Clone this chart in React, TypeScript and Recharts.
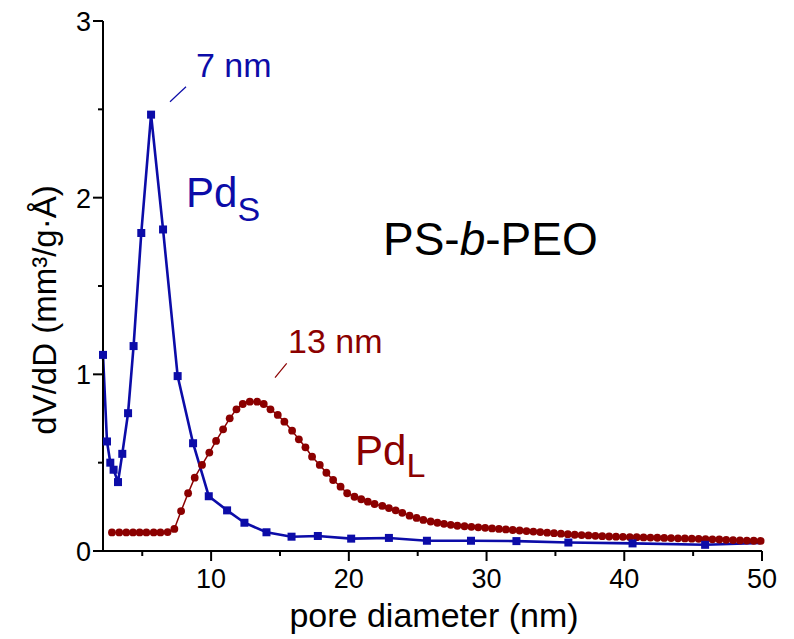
import React from 'react';
import { LineChart, Line, XAxis, YAxis } from 'recharts';

// Pd_S (blue squares)
const smallX = [2.15, 2.44, 2.68, 2.92, 3.24, 3.55, 3.97, 4.37, 4.93, 5.64, 6.51, 7.57, 8.69, 9.83, 11.16, 12.42, 14.02, 15.84, 17.75, 20.17, 22.91, 25.67, 28.87, 32.17, 35.94, 40.6, 45.87, 49.95];
const smallY = [1.11, 0.62, 0.5, 0.46, 0.39, 0.55, 0.78, 1.16, 1.8, 2.47, 1.82, 0.99, 0.61, 0.31, 0.23, 0.16, 0.106, 0.081, 0.085, 0.07, 0.074, 0.058, 0.058, 0.056, 0.048, 0.043, 0.035, 0.045];

// Pd_L (dark red circles)
const largeX = [
  2.8, 3.33, 3.84, 4.33, 4.81, 5.3, 5.83, 6.32, 6.84, 7.33, 7.82, 8.33, 8.81, 9.34, 9.87, 10.36, 10.87, 11.35, 11.84, 12.3,
  12.81, 13.34, 13.82, 14.31, 14.84, 15.32, 15.88, 16.37, 16.85, 17.33, 17.89, 18.37, 18.86, 19.4, 19.88, 20.41, 20.9, 21.38, 21.87, 22.43,
  22.91, 23.4, 23.88, 24.41, 24.92, 25.41, 25.94, 26.43, 26.91, 27.4, 27.88, 28.4, 28.9, 29.4, 29.9, 30.4, 30.9, 31.4, 31.9, 32.4,
  32.9, 33.4, 33.9, 34.4, 34.9, 35.4, 35.9, 36.4, 36.9, 37.4, 37.9, 38.4, 38.9, 39.4, 39.9, 40.4, 40.9, 41.4, 41.9, 42.4,
  42.9, 43.4, 43.9, 44.4, 44.9, 45.4, 45.9, 46.4, 46.9, 47.4, 47.9, 48.4, 48.9, 49.4, 49.9,
];
const largeY = [
  0.105, 0.105, 0.105, 0.105, 0.105, 0.105, 0.105, 0.105, 0.107, 0.125, 0.226, 0.327, 0.415, 0.487, 0.557, 0.623, 0.689, 0.751, 0.802, 0.832,
  0.845, 0.845, 0.832, 0.802, 0.77, 0.732, 0.681, 0.632, 0.587, 0.534, 0.487, 0.443, 0.402, 0.364, 0.327, 0.307, 0.293, 0.279, 0.266, 0.255,
  0.243, 0.23, 0.216, 0.2, 0.187, 0.176, 0.167, 0.16, 0.154, 0.148, 0.143, 0.14, 0.137, 0.134, 0.131, 0.128, 0.125, 0.122, 0.119, 0.116,
  0.113, 0.11, 0.107, 0.104, 0.101, 0.098, 0.095, 0.092, 0.09, 0.088, 0.086, 0.084, 0.082, 0.081, 0.08, 0.079, 0.078, 0.077, 0.076, 0.075,
  0.074, 0.073, 0.072, 0.071, 0.07, 0.069, 0.067, 0.066, 0.065, 0.063, 0.062, 0.06, 0.059, 0.058, 0.057,
];

const xTicks = [5, 10, 15, 20, 25, 30, 35, 40, 45, 50];
const yTicks = [0, 0.5, 1, 1.5, 2, 2.5, 3];

const smallData = smallX.map((x, i) => ({ x, y: smallY[i] }));
const largeData = largeX.map((x, i) => ({ x, y: largeY[i] }));

const BLUE = '#0c0ca8';
const RED = '#8b0000';
const FONT = '"Liberation Sans", Arial, sans-serif';

const XTick = (props: any) => {
  const { x, y, payload } = props;
  const major = payload.value % 10 === 0;
  return (
    <g>
      <line x1={x} y1={y} x2={x} y2={y + (major ? 10 : 5)} stroke="#000" strokeWidth={2} />
      {major && (
        <text x={x} y={y + 37} textAnchor="middle" fontSize={27} fill="#000" fontFamily={FONT}>
          {payload.value}
        </text>
      )}
    </g>
  );
};

const YTick = (props: any) => {
  const { x, y, payload } = props;
  const major = Number.isInteger(payload.value);
  return (
    <g>
      <line x1={x - (major ? 10 : 5)} y1={y} x2={x} y2={y} stroke="#000" strokeWidth={2} />
      {major && (
        <text x={x - 12} y={y + 10} textAnchor="end" fontSize={27} fill="#000" fontFamily={FONT}>
          {payload.value}
        </text>
      )}
    </g>
  );
};

const SquareDot = (props: any) => {
  const { cx, cy, index } = props;
  if (cx == null || cy == null || index === smallX.length - 1) return <g key={`s${index}`} />;
  return <rect key={`s${index}`} x={cx - 4} y={cy - 4} width={8} height={8} fill={BLUE} />;
};

const App: React.FC = () => {
  return (
    <div style={{ position: 'absolute', left: 0, top: 0, width: 794, height: 639, background: '#fff' }}>
      <LineChart width={794} height={639} margin={{ top: 21, right: 32, left: 0, bottom: 0 }}>
        <XAxis
          type="number"
          dataKey="x"
          domain={[2.15, 50]}
          ticks={xTicks}
          tick={<XTick />}
          tickLine={false}
          tickSize={0}
          tickMargin={0}
          height={88}
          stroke="#000"
          strokeWidth={2}
          interval={0}
        />
        <YAxis
          type="number"
          domain={[0, 3]}
          ticks={yTicks}
          tick={<YTick />}
          tickLine={false}
          tickSize={0}
          tickMargin={0}
          width={103}
          stroke="#000"
          strokeWidth={2}
          interval={0}
        />
        <Line
          data={largeData}
          dataKey="y"
          stroke={RED}
          strokeWidth={1.5}
          dot={{ r: 3.9, fill: RED, stroke: RED, strokeWidth: 0 }}
          isAnimationActive={false}
        />
        <Line
          data={smallData}
          dataKey="y"
          stroke={BLUE}
          strokeWidth={2.6}
          dot={<SquareDot />}
          isAnimationActive={false}
        />
        <text x={56} y={310} transform="rotate(-90, 56, 310)" textAnchor="middle" fontSize={33} fill="#000" fontFamily={FONT}>
          dV/dD (mm³/g·Å)
        </text>
        <text x={434} y={627} textAnchor="middle" fontSize={34} fill="#000" fontFamily={FONT}>
          pore diameter (nm)
        </text>
        <line x1={170} y1={101.7} x2={186} y2={86.7} stroke={BLUE} strokeWidth={1.2} />
        <text x={196} y={77} fontSize={34} fill={BLUE} fontFamily={FONT}>7 nm</text>
        <text x={186} y={207} fontSize={42} fill={BLUE} fontFamily={FONT}>
          Pd<tspan fontSize={34} dy={14}>S</tspan>
        </text>
        <text x={383} y={255} fontSize={46} fill="#000" fontFamily={FONT}>
          PS-<tspan fontStyle="italic">b</tspan>-PEO
        </text>
        <line x1={275} y1={377.7} x2={286.7} y2={363.3} stroke={RED} strokeWidth={1.2} />
        <text x={288} y={353} fontSize={34} fill={RED} fontFamily={FONT}>13 nm</text>
        <text x={355} y={465} fontSize={42} fill={RED} fontFamily={FONT}>
          Pd<tspan fontSize={34} dy={12}>L</tspan>
        </text>
      </LineChart>
    </div>
  );
};

export default App;
